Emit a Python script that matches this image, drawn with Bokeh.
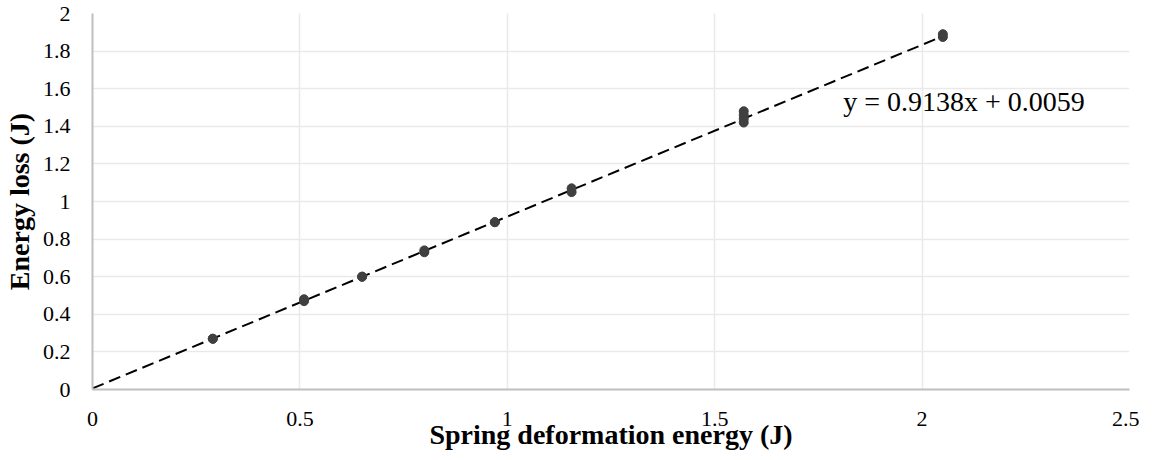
from bokeh.plotting import figure
from bokeh.models import Label, FixedTicker, ColumnDataSource, Range1d
from bokeh.embed import file_html
from bokeh.resources import INLINE

# ---- data ----
x_energy = [0.29, 0.29, 0.51, 0.51, 0.65, 0.65, 0.80, 0.80, 0.97, 0.97,
            1.155, 1.155, 1.57, 1.57, 1.57, 1.57, 2.05, 2.05]
y_loss = [0.27, 0.27, 0.47, 0.48, 0.60, 0.60, 0.73, 0.74, 0.89, 0.89,
          1.05, 1.07, 1.42, 1.44, 1.46, 1.48, 1.875, 1.89]
slope = 0.9138
intercept = 0.0059
x_ticks = [0, 0.5, 1, 1.5, 2, 2.5]
x_tick_labels = ["0", "0.5", "1", "1.5", "2", "2.5"]
y_ticks = [0, 0.2, 0.4, 0.6, 0.8, 1.0, 1.2, 1.4, 1.6, 1.8, 2.0]
y_tick_labels = ["0", "0.2", "0.4", "0.6", "0.8", "1", "1.2", "1.4", "1.6", "1.8", "2"]
x_title = "Spring deformation energy (J)"
y_title = "Energy loss (J)"
equation = "y = 0.9138x + 0.0059"

FONT = "Liberation Serif"

p = figure(width=1139, height=452, x_range=Range1d(0, 2.5), y_range=Range1d(0, 2),
           output_backend="svg", toolbar_location=None,
           min_border_left=85, min_border_right=10, min_border_top=13, min_border_bottom=63)
p.outline_line_color = None
p.background_fill_color = "white"
p.border_fill_color = "white"

# grid
p.xgrid.ticker = FixedTicker(ticks=x_ticks)
p.ygrid.ticker = FixedTicker(ticks=y_ticks)
for g in (p.xgrid, p.ygrid):
    g.grid_line_color = "#e9e9e9"
    g.grid_line_width = 1.5

# axes
p.xaxis.ticker = FixedTicker(ticks=x_ticks)
p.yaxis.ticker = FixedTicker(ticks=y_ticks)
p.xaxis.major_label_overrides = {t: l for t, l in zip(x_ticks, x_tick_labels)}
p.yaxis.major_label_overrides = {t: l for t, l in zip(y_ticks, y_tick_labels)}
for ax in (p.xaxis, p.yaxis):
    ax.axis_line_color = "#bfbfbf"
    ax.axis_line_width = 2
    ax.major_tick_line_color = None
    ax.minor_tick_line_color = None
    ax.major_label_text_font = FONT
    ax.major_label_text_font_size = "22px"
    ax.major_label_text_color = "black"
    ax.axis_label_text_font = FONT
    ax.axis_label_text_font_style = "bold"
    ax.axis_label_text_font_size = "28px"
    ax.axis_label_text_color = "black"
p.xaxis.axis_label = x_title
p.yaxis.axis_label = y_title
p.xaxis.major_label_standoff = 16
p.yaxis.major_label_standoff = 16
p.xaxis.axis_label_standoff = -10
p.yaxis.axis_label_standoff = 5

# trendline
tx = [0, max(x_energy)]
ty = [slope * v + intercept for v in tx]
p.line(tx, ty, line_color="black", line_width=2, line_dash="12 6")

# points
src = ColumnDataSource(dict(x=x_energy, y=y_loss))
p.scatter("x", "y", source=src, size=9, fill_color="#404040", line_color="#404040")

# equation
p.add_layout(Label(x=1.81, y=1.53, text=equation, text_font=FONT,
                   text_font_size="28px", text_baseline="middle", text_color="black"))

open("out.html", "w").write(file_html(p, INLINE))
